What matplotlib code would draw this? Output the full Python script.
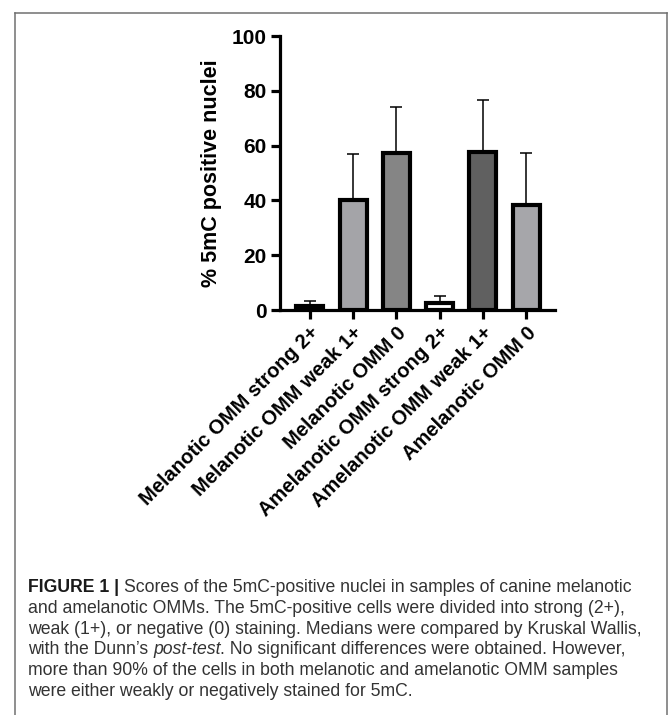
import matplotlib
matplotlib.use("Agg")
import matplotlib.pyplot as plt
from matplotlib.lines import Line2D

# data
categories = ["Melanotic OMM strong 2+", "Melanotic OMM weak 1+", "Melanotic OMM 0",
              "Amelanotic OMM strong 2+", "Amelanotic OMM weak 1+", "Amelanotic OMM 0"]
means = [1.5, 40.2, 57.3, 2.6, 57.8, 38.4]
sd = [1.7, 16.7, 16.9, 2.5, 18.9, 18.9]
bar_colors = ["#ffffff", "#a4a4a8", "#858585", "#ffffff", "#606060", "#a6a6aa"]
yticks = [0, 20, 40, 60, 80, 100]

caption_lines = [
    [("FIGURE 1 | ", "bold", "normal"),
     ("Scores of the 5mC-positive nuclei in samples of canine melanotic", "normal", "normal")],
    [("and amelanotic OMMs. The 5mC-positive cells were divided into strong (2+),", "normal", "normal")],
    [("weak (1+), or negative (0) staining. Medians were compared by Kruskal Wallis,", "normal", "normal")],
    [("with the Dunn\u2019s ", "normal", "normal"), ("post-test", "normal", "italic"),
     (". No significant differences were obtained. However,", "normal", "normal")],
    [("more than 90% of the cells in both melanotic and amelanotic OMM samples", "normal", "normal")],
    [("were either weakly or negatively stained for 5mC.", "normal", "normal")],
]

W, H = 669, 715
fig = plt.figure(figsize=(W / 100, H / 100), dpi=100)
plt.rcParams["font.family"] = ["Liberation Sans", "DejaVu Sans"]

ax = fig.add_axes([280 / W, 1 - 310 / H, (555 - 280) / W, (310 - 36) / H])
x = list(range(len(categories)))
ax.errorbar(x, means, yerr=[[0] * len(sd), sd], fmt="none", ecolor="black",
            elinewidth=1.1, capsize=4.5, capthick=1.1, zorder=1)
ax.bar(x, means, width=0.625, color=bar_colors, edgecolor="black", linewidth=3.0, zorder=2)

ax.set_xlim(-0.69, 5.67)
ax.set_ylim(0, 100)
ax.set_yticks(yticks)
ax.set_xticks(x)
ax.set_xticklabels(categories, rotation=45, ha="right", va="top", rotation_mode="anchor",
                   fontsize=14.5, fontweight="bold")
for lab in ax.get_yticklabels():
    lab.set_fontsize(15)
    lab.set_fontweight("bold")
ax.set_ylabel("% 5mC positive nuclei", fontsize=15.5, fontweight="bold", labelpad=7)
for s in ["top", "right"]:
    ax.spines[s].set_visible(False)
for s in ["left", "bottom"]:
    ax.spines[s].set_linewidth(2.3)
ax.tick_params(axis="both", length=6.5, width=2.3, pad=3)
ax.patch.set_alpha(0)

# frame around the figure (open at the bottom)
lc = "#707070"
fig.add_artist(Line2D([14.5 / W, 14.5 / W], [0, 1 - 12.5 / H], color=lc, lw=1.1, transform=fig.transFigure))
fig.add_artist(Line2D([14.5 / W, 667 / W], [1 - 12.5 / H, 1 - 12.5 / H], color=lc, lw=1.1, transform=fig.transFigure))
fig.add_artist(Line2D([667 / W, 667 / W], [0, 1 - 12.5 / H], color=lc, lw=1.1, transform=fig.transFigure))

# caption, drawn piece by piece so bold / italic runs can sit inline
renderer = fig.canvas.get_renderer()
cap_size = 12.7
y0 = 588
for i, segs in enumerate(caption_lines):
    xp = 28
    yp = y0 + i * 20.6
    for txt, weight, style in segs:
        col = "#1a1a1a" if weight == "bold" else "#333333"
        t = fig.text(xp / W, 1 - yp / H, txt, fontsize=cap_size, fontweight=weight,
                     fontstyle=style, color=col, va="center", ha="left")
        bb = t.get_window_extent(renderer=renderer)
        xp += bb.width

fig.savefig("out.png", dpi=100)
